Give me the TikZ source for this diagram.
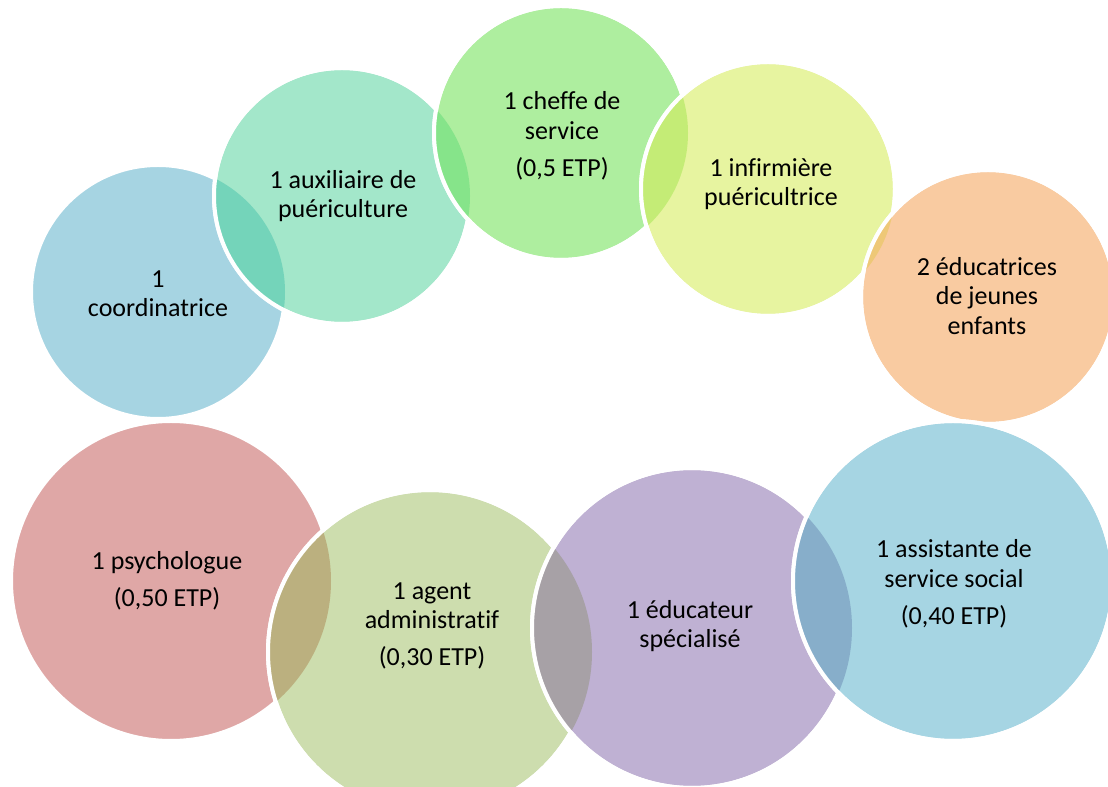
\documentclass[tikz,border=0pt]{standalone}
\usepackage{fontspec}
\setmainfont{Carlito}[Ligatures=CommonOff]
\definecolor{coordblue}{HTML}{A6D4E2}
\definecolor{auxgreen}{HTML}{A3E7CA}
\definecolor{cheffegreen}{HTML}{AEEE9F}
\definecolor{infyellow}{HTML}{E7F4A0}
\definecolor{ejeorange}{HTML}{F9CBA1}
\definecolor{psyred}{HTML}{DFA7A6}
\definecolor{agentgreen}{HTML}{CDDDAE}
\definecolor{espurple}{HTML}{BFB1D3}
\definecolor{assblue}{HTML}{A6D5E3}
\definecolor{lensA}{HTML}{74D4BA}
\definecolor{lensB}{HTML}{86E48A}
\definecolor{lensC}{HTML}{C4EC76}
\definecolor{lensD}{HTML}{EEC877}
\definecolor{lensE}{HTML}{BBB07F}
\definecolor{lensF}{HTML}{A7A1A6}
\definecolor{lensG}{HTML}{87AECA}
\begin{document}
\begin{tikzpicture}[x=0.75pt,y=-0.75pt,
  bubble/.style={circle,draw=white,line width=3pt,inner sep=0pt},
  lbl/.style={align=center,font=\fontsize{19.5}{22}\selectfont}]
\clip (0,0) rectangle (1108,787);
\fill[white] (0,0) rectangle (1108,787);
% top row
\node[bubble,fill=coordblue,minimum size=190.5pt] (coord) at (158,292) {};
\node[bubble,fill=auxgreen,minimum size=192pt] (aux) at (342,196) {};
\begin{scope}
\clip (coord.center) circle (127);
\fill[lensA] (aux.center) circle (128);
\end{scope}
\draw[white,line width=3pt] (aux.center) circle (128);
\node[bubble,fill=cheffegreen,minimum size=190.5pt] (cheffe) at (561,133) {};
\begin{scope}
\clip (aux.center) circle (128);
\fill[lensB] (cheffe.center) circle (127);
\end{scope}
\draw[white,line width=3pt] (cheffe.center) circle (127);
\node[bubble,fill=infyellow,minimum size=190.5pt] (inf) at (768,189) {};
\begin{scope}
\clip (cheffe.center) circle (127);
\fill[lensC] (inf.center) circle (127);
\end{scope}
\draw[white,line width=3pt] (inf.center) circle (127);
\node[bubble,fill=ejeorange,minimum size=190.5pt] (eje) at (988,297) {};
\begin{scope}
\clip (inf.center) circle (127);
\fill[lensD] (eje.center) circle (127);
\end{scope}
\draw[white,line width=3pt] (eje.center) circle (127);
% bottom row
\node[bubble,fill=psyred,minimum size=240pt] (psy) at (171,581) {};
\node[bubble,fill=agentgreen,minimum size=243pt] (agent) at (430,652) {};
\begin{scope}
\clip (psy.center) circle (160);
\fill[lensE] (agent.center) circle (162);
\end{scope}
\draw[white,line width=3pt] (agent.center) circle (162);
\node[bubble,fill=espurple,minimum size=240pt] (es) at (692,628) {};
\begin{scope}
\clip (agent.center) circle (162);
\fill[lensF] (es.center) circle (160);
\end{scope}
\draw[white,line width=3pt] (es.center) circle (160);
\node[bubble,fill=assblue,minimum size=240pt] (ass) at (953,581) {};
\begin{scope}
\clip (es.center) circle (160);
\fill[lensG] (ass.center) circle (160);
\end{scope}
\draw[white,line width=3pt] (ass.center) circle (160);
% labels
\node[lbl] (tcoord) at (158,294) {1\\coordinatrice};
\node[lbl] (taux) at (343,196) {1 auxiliaire de\\puériculture};
\node[lbl] (tcheffe) at (562,136) {1 cheffe de\\service\\[6pt](0,5 ETP)};
\node[lbl] (tinf) at (771,184) {1 infirmière\\puéricultrice};
\node[lbl] (teje) at (987,296) {2 éducatrices\\de jeunes\\enfants};
\node[lbl] (tpsy) at (167,581) {1 psychologue\\[6pt](0,50 ETP)};
\node[lbl] (tagent) at (432,626) {1 agent\\administratif\\[6pt](0,30 ETP)};
\node[lbl] (tes) at (690,626) {1 éducateur\\spécialisé};
\node[lbl] (tass) at (954,584) {1 assistante de\\service social\\[6pt](0,40 ETP)};
\end{tikzpicture}
\end{document}
